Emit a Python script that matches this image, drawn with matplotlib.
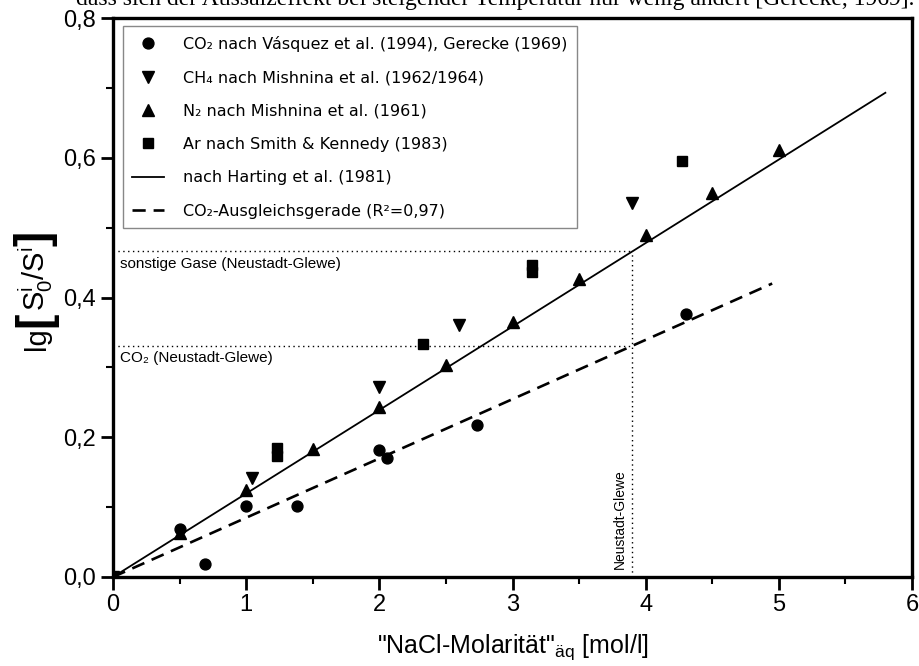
import matplotlib
matplotlib.use("Agg")
import matplotlib.pyplot as plt
from matplotlib import font_manager as fm
from matplotlib.ticker import MultipleLocator, FuncFormatter

# ---------------- data ----------------
co2_x = [0.5, 0.69, 1.0, 1.38, 2.0, 2.055, 2.73, 4.3]
co2_y = [0.068, 0.018, 0.101, 0.101, 0.182, 0.171, 0.217, 0.377]

ch4_x = [0.0, 1.046, 2.0, 2.6, 3.9]
ch4_y = [0.0, 0.141, 0.272, 0.36, 0.535]

n2_x = [0.0, 0.5, 1.0, 1.5, 2.0, 2.5, 3.0, 3.5, 4.0, 4.5, 5.0]
n2_y = [0.0, 0.063, 0.125, 0.183, 0.244, 0.303, 0.365, 0.426, 0.489, 0.55, 0.611]

ar_x = [1.23, 1.23, 2.33, 3.15, 3.15, 4.27]
ar_y = [0.185, 0.173, 0.334, 0.446, 0.437, 0.595]

harting_x = [0.0, 5.8]
harting_y = [0.0, 0.693]

co2fit_x = [0.0, 4.95]
co2fit_y = [0.0, 0.42]

ng_x = 3.9
ng_gas_y = 0.466
ng_co2_y = 0.331

x_ticks = [0, 1, 2, 3, 4, 5, 6]
y_ticks = [0.0, 0.2, 0.4, 0.6, 0.8]

labels = [
    "CO\u2082 nach Vásquez et al. (1994), Gerecke (1969)",
    "CH\u2084 nach Mishnina et al. (1962/1964)",
    "N\u2082 nach Mishnina et al. (1961)",
    "Ar nach Smith & Kennedy (1983)",
    "nach Harting et al. (1981)",
    "CO\u2082-Ausgleichsgerade (R\u00b2=0,97)",
]

# ---------------- fonts ----------------
names = {f.name for f in fm.fontManager.ttflist}
narrow = "Liberation Sans Narrow" if "Liberation Sans Narrow" in names else "Liberation Sans"
plt.rcParams["font.family"] = [narrow, "DejaVu Sans"]
plt.rcParams["mathtext.fontset"] = "custom"
plt.rcParams["mathtext.rm"] = "Liberation Sans"
plt.rcParams["mathtext.sf"] = "Liberation Sans"
plt.rcParams["mathtext.it"] = "Liberation Sans"

W, H = 919, 666
fig = plt.figure(figsize=(W / 100, H / 100), dpi=100)
ax = fig.add_axes([113 / W, 1 - 577 / H, (912 - 113) / W, (577 - 18) / H])

ms = 8
h1, = ax.plot(co2_x, co2_y, "o", color="black", ms=ms * 0.98, zorder=5)
h2, = ax.plot(ch4_x, ch4_y, "v", color="black", ms=ms * 1.1, zorder=5)
h3, = ax.plot(n2_x, n2_y, "^", color="black", ms=ms * 1.1, zorder=5)
h4, = ax.plot(ar_x, ar_y, "s", color="black", ms=ms * 0.88, zorder=5)
h5, = ax.plot(harting_x, harting_y, "-", color="black", lw=1.3, zorder=4)
h6, = ax.plot(co2fit_x, co2fit_y, color="black", lw=1.9, dashes=(5, 3), zorder=4)

dot = dict(color="black", lw=1.0, linestyle=(0, (1, 2.5)), zorder=3)
ax.plot([0, ng_x], [ng_gas_y, ng_gas_y], **dot)
ax.plot([0, ng_x], [ng_co2_y, ng_co2_y], **dot)
ax.plot([ng_x, ng_x], [0, ng_gas_y], **dot)

ann_font = ["Liberation Sans", "DejaVu Sans"]
ax.text(0.05, ng_gas_y - 0.008, "sonstige Gase (Neustadt-Glewe)", family=ann_font,
        fontsize=11, va="top", ha="left")
ax.text(0.05, ng_co2_y - 0.008, "CO\u2082 (Neustadt-Glewe)", family=ann_font,
        fontsize=11, va="top", ha="left")
ax.text(ng_x - 0.04, 0.012, "Neustadt-Glewe", family=ann_font, fontsize=10,
        rotation=90, ha="right", va="bottom")

ax.set_xlim(0, 6)
ax.set_ylim(0, 0.8)
ax.set_xticks(x_ticks)
ax.set_yticks(y_ticks)
ax.xaxis.set_minor_locator(MultipleLocator(0.5))
ax.yaxis.set_minor_locator(MultipleLocator(0.1))
ax.xaxis.set_major_formatter(FuncFormatter(lambda v, p: f"{v:.0f}"))
ax.yaxis.set_major_formatter(FuncFormatter(lambda v, p: f"{v:.1f}".replace(".", ",")))
ax.tick_params(which="major", direction="out", length=9, width=2, labelsize=17, pad=3)
ax.tick_params(which="minor", direction="out", length=5, width=1.5)
for s in ax.spines.values():
    s.set_linewidth(2.4)

ax.set_xlabel('"NaCl-Molarität"$_{\\mathregular{äq}}$ [mol/l]', fontsize=18, labelpad=12)

# y label built from pieces so that the brackets can be large
renderer = fig.canvas.get_renderer()
lib = ["Liberation Sans", "DejaVu Sans"]
pieces = [
    ("lg", dict(fontsize=21, family=lib), 0),
    ("[", dict(fontsize=33, family=lib, fontweight="bold"), 2),
    (r"$\mathsf{S}_0^{\mathsf{i}}/\mathsf{S}^{\mathsf{i}}$", dict(fontsize=21), 0),
    ("]", dict(fontsize=33, family=lib, fontweight="bold"), 2),
]
base_x = 45
cur_y = 350  # pixels from top, label grows upward
for txt, kw, xoff in pieces:
    t = fig.text((base_x + xoff) / W, 1 - cur_y / H, txt, rotation=90,
                 rotation_mode="anchor", ha="left", va="baseline", **kw)
    bb = t.get_window_extent(renderer)
    cur_y -= bb.height + 0.5

leg = ax.legend([h1, h2, h3, h4, h5, h6], labels, loc="upper left",
                bbox_to_anchor=(0.012, 0.985), frameon=True, fancybox=False,
                edgecolor="#888888", framealpha=1, prop={"family": "DejaVu Sans", "size": 11.5},
                handlelength=2.0, handletextpad=1.2, labelspacing=1.15,
                borderpad=0.6, borderaxespad=0)
leg.get_frame().set_linewidth(1.0)

fig.text(0.995, 1.0,
         "dass sich der Aussalzeffekt bei steigender Temperatur nur wenig ändert [Gerecke, 1969].",
         family=["Liberation Serif", "DejaVu Serif"], fontsize=17, ha="right", va="center")

fig.savefig("out.png", dpi=100)
